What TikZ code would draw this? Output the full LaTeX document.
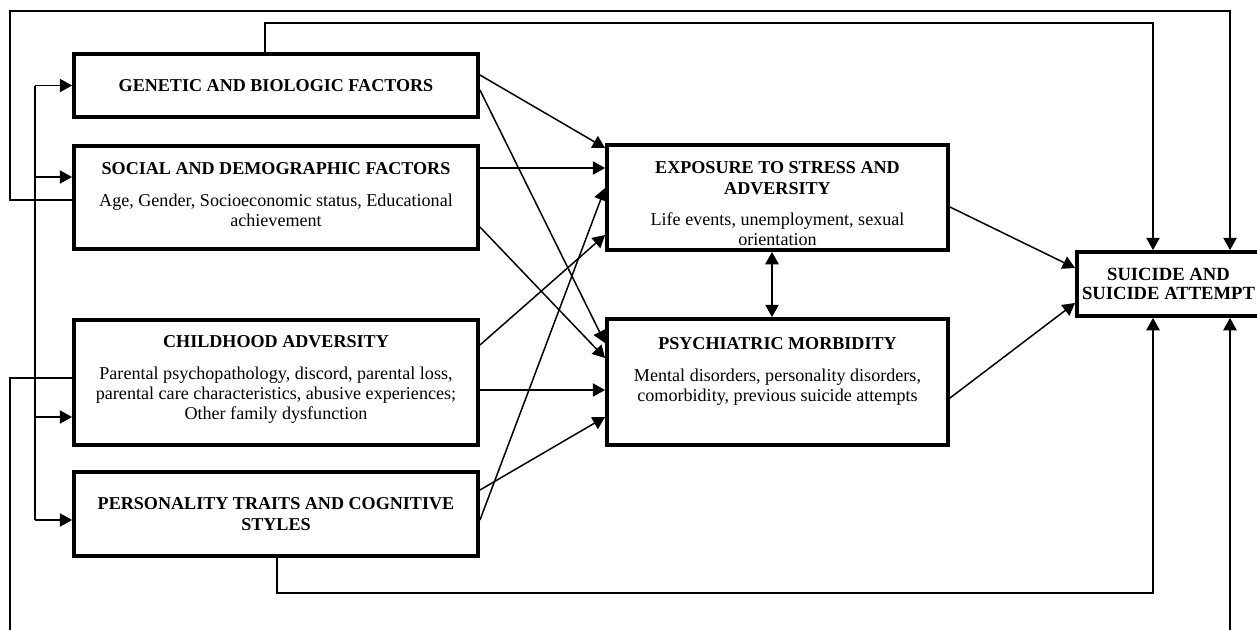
\documentclass[tikz,border=0pt]{standalone}
\usepackage{fontspec}
\setmainfont{Liberation Serif}
\usetikzlibrary{arrows.meta}

\begin{document}
\begin{tikzpicture}[
  box/.style={draw, black, line width=2.5pt, inner sep=0pt},
  txt/.style={align=center, inner sep=0pt, font=\fontsize{10.3}{11.6}\selectfont},
  arr/.style={line width=0.85pt, -{Triangle[length=7pt,width=7.6pt]}},
  dbl/.style={line width=0.85pt, {Triangle[length=7pt,width=7.6pt]}-{Triangle[length=7pt,width=7.6pt]}},
  lnk/.style={line width=0.85pt}
]
\useasboundingbox (0,0) rectangle (25.14,-12.58);

\node[box, minimum width=8.07cm, minimum height=1.25cm] (gen) at (5.52,-1.71) {};
\node[box, minimum width=8.07cm, minimum height=2.05cm] (soc) at (5.52,-3.95) {};
\node[box, minimum width=8.07cm, minimum height=2.49cm] (child) at (5.52,-7.65) {};
\node[box, minimum width=8.07cm, minimum height=1.67cm] (pers) at (5.52,-10.28) {};
\node[box, minimum width=6.81cm, minimum height=2.09cm] (exp) at (15.55,-3.95) {};
\node[box, minimum width=6.81cm, minimum height=2.51cm] (psy) at (15.55,-7.64) {};
\node[box, minimum width=3.65cm, minimum height=1.27cm] (sui) at (23.37,-5.68) {};

\node[txt] (gen_txt) at (gen.center) {\bfseries GENETIC AND BIOLOGIC FACTORS};
\node[txt, anchor=north, yshift=-0.36cm] (soc_txt) at (soc.north) {{\bfseries SOCIAL AND DEMOGRAPHIC FACTORS}\\[6.5pt]Age, Gender, Socioeconomic status, Educational\\achievement};
\node[txt, anchor=north, yshift=-0.34cm] (child_txt) at (child.north) {{\bfseries CHILDHOOD ADVERSITY}\\[6.5pt]Parental psychopathology, discord, parental loss,\\parental care characteristics, abusive experiences;\\Other family dysfunction};
\node[txt] (pers_txt) at (pers.center) {\bfseries PERSONALITY TRAITS AND COGNITIVE\\\bfseries STYLES};
\node[txt, anchor=north, yshift=-0.37cm] (exp_txt) at (exp.north) {{\bfseries EXPOSURE TO STRESS AND}\\{\bfseries ADVERSITY}\\[6pt]Life events, unemployment, sexual\\orientation};
\node[txt, anchor=north, yshift=-0.4cm] (psy_txt) at (psy.north) {{\bfseries PSYCHIATRIC MORBIDITY}\\[6.5pt]Mental disorders, personality disorders,\\comorbidity, previous suicide attempts};
\node[txt, font=\fontsize{10.6}{10.6}\selectfont] (sui_txt) at (sui.center) {\bfseries SUICIDE AND\\\bfseries SUICIDE ATTEMPT};

\draw[arr] (gen.east |- 0,-1.5) -- (exp.west |- 0,-2.96);
\draw[arr] (gen.east |- 0,-1.8) -- (psy.west |- 0,-6.86);
\draw[arr] (soc.east |- 0,-3.36) -- (exp.west |- 0,-3.36);
\draw[arr] (soc.east |- 0,-4.54) -- (psy.west |- 0,-7.16);
\draw[arr] (child.east |- 0,-6.9) -- (exp.west |- 0,-4.7);
\draw[arr] (child.east |- 0,-7.8) -- (psy.west |- 0,-7.8);
\draw[arr] (pers.east |- 0,-9.8) -- (psy.west |- 0,-8.34);
\draw[arr] (pers.east |- 0,-10.4) -- (exp.west |- 0,-3.76);
\draw[arr] (exp.east |- 0,-4.14) -- (sui.west |- 0,-5.36);
\draw[arr] (psy.east |- 0,-7.96) -- (sui.west |- 0,-6.06);
\draw[dbl] (exp.south -| 15.44,0) -- (psy.north -| 15.44,0);

\coordinate (bus_top) at (0.7,-1.71);
\coordinate (bus_bot) at (0.7,-10.4);
\draw[lnk] (bus_top) -- (bus_bot);
\draw[arr] (bus_top) -- (gen.west);
\draw[arr] (0.7,-3.54) -- (soc.west |- 0,-3.54);
\draw[arr] (0.7,-8.34) -- (child.west |- 0,-8.34);
\draw[arr] (bus_bot) -- (pers.west |- bus_bot);

\draw[arr] (soc.west |- 0,-4) -| (0.2,-0.22) -| (sui.north -| 24.6,0);
\draw[arr] (gen.north -| 5.3,0) |- (23.06,-0.46) -- (sui.north -| 23.06,0);
\draw[arr] (child.west |- 0,-7.56) -| (0.2,-13.2) -| (sui.south -| 24.6,0);
\draw[arr] (pers.south -| 5.54,0) |- (23.06,-11.86) -- (sui.south -| 23.06,0);

\end{tikzpicture}
\end{document}
